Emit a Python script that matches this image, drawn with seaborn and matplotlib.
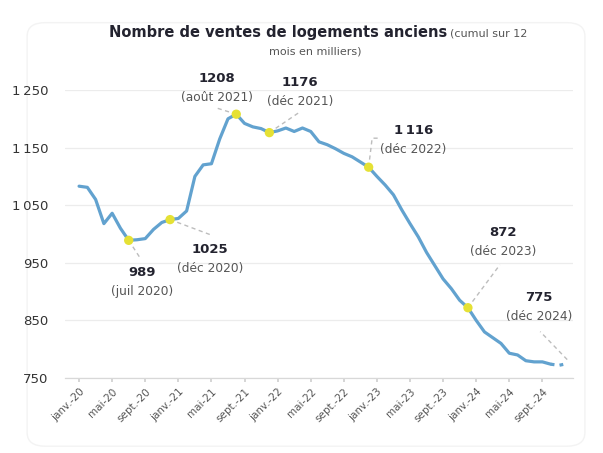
import numpy as np
import pandas as pd
import matplotlib
matplotlib.use("Agg")
import matplotlib.pyplot as plt
import seaborn as sns
from matplotlib.patches import FancyBboxPatch

# --- DATA ---
MONTH_LABELS = ["janv.-20", "mai-20", "sept.-20", "janv.-21", "mai-21", "sept.-21",
                "janv.-22", "mai-22", "sept.-22", "janv.-23", "mai-23", "sept.-23",
                "janv.-24", "mai-24", "sept.-24"]

# monthly 12-month cumulative sales (thousands), janv. 2020 -> déc. 2024
SALES = [1083, 1081, 1060, 1018, 1036, 1010, 989, 990, 992, 1008, 1020, 1025,
         1027, 1040, 1100, 1120, 1122, 1165, 1200, 1208, 1192, 1186, 1183, 1176,
         1179, 1184, 1178, 1184, 1178, 1160, 1155, 1148, 1140, 1134, 1125, 1116,
         1100, 1085, 1068, 1042, 1018, 995, 968, 945, 922, 905, 885, 872,
         850, 830, 820, 810, 793, 790, 780, 778, 778, 774, 772, 775]

PROVISIONAL_FROM = 57  # last months drawn dotted

HIGHLIGHT_MONTHS = [6, 11, 19, 23, 35, 47, 59]
HIGHLIGHT_VALUES = ["989", "1025", "1208", "1176", "1\u2009116", "872", "775"]
HIGHLIGHT_DATES = ["(juil 2020)", "(déc 2020)", "(août 2021)", "(déc 2021)",
                   "(déc 2022)", "(déc 2023)", "(déc 2024)"]

Y_TICKS = [750, 850, 950, 1050, 1150, 1250]
Y_TICK_LABELS = ["750", "850", "950", "1\u2009050", "1\u2009150", "1\u2009250"]

# --- LAYOUT (pixel offsets from the highlighted point) ---
LEADERS = [
    [(0, 0), (11, -17)],
    [(0, 0), (40, -15)],
    [(0, 0), (-19, 6)],
    [(0, 0), (31, 21)],
    [(0, 0), (3.5, 29), (10, 29)],
    [(0, 0), (32, 43)],
    [(0, 4), (-27, 32)],
]
LABEL_POS = [(13, -32), (40, -30), (-19, 36), (31, 50), (45, 37), (35, 75), (-28, 66)]
DATE_GAP = -19
SHOW_MARKER = [True, True, True, True, True, True, False]

LINE_COLOR = "#62a2cf"
DOT_COLOR = "#e5e135"
LEADER_COLOR = "#bdbdbd"
DARK = "#23232f"
GREY = "#555555"


def main():
    df = pd.DataFrame({"month": np.arange(len(SALES)), "sales": SALES})
    solid = df[df["month"] <= PROVISIONAL_FROM]
    dotted = df[df["month"] >= PROVISIONAL_FROM]

    sns.set_theme(style="whitegrid")
    plt.rcParams["font.family"] = ["DejaVu Sans"]

    fig = plt.figure(figsize=(6.03, 4.53), dpi=100)
    fig.patch.set_facecolor("white")
    card = FancyBboxPatch((0.045, 0.015), 0.925, 0.935, boxstyle="round,pad=0,rounding_size=0.03",
                          transform=fig.transFigure, facecolor="white", edgecolor="#f3f3f3",
                          linewidth=1.0, zorder=-1)
    fig.patches.append(card)

    ax = fig.add_axes([65 / 603, 75 / 453, 508 / 603, 288 / 453])
    ax.set_facecolor("none")

    sns.lineplot(data=solid, x="month", y="sales", ax=ax, color=LINE_COLOR, linewidth=2.3)
    sns.lineplot(data=dotted, x="month", y="sales", ax=ax, color=LINE_COLOR, linewidth=2.3,
                 linestyle=(0, (1.2, 1.6)))

    ax.set_xlim(-1.7, 59.7)
    ax.set_ylim(750, 1250)
    ax.set_xlabel("")
    ax.set_ylabel("")

    ax.set_yticks(Y_TICKS)
    ax.set_yticklabels(Y_TICK_LABELS, fontsize=9.5, color="#333333")
    ax.set_xticks(np.arange(0, 57, 4))
    ax.set_xticklabels(MONTH_LABELS, rotation=45, ha="right", rotation_mode="anchor",
                       fontsize=7.5, color=GREY)
    ax.tick_params(axis="x", bottom=True, length=3, color="#d0d0d0", pad=3)
    ax.tick_params(axis="y", left=False, pad=6)

    ax.grid(axis="x", visible=False)
    ax.grid(axis="y", color="#ececec", linewidth=0.9)
    for side in ["top", "right", "left"]:
        ax.spines[side].set_visible(False)
    ax.spines["bottom"].set_color("#d8d8d8")
    ax.spines["bottom"].set_linewidth(0.9)

    # highlighted points and their labels
    to_data = ax.transData.inverted()
    for i, m in enumerate(HIGHLIGHT_MONTHS):
        val = SALES[m]
        base = ax.transData.transform((m, val))
        pts = np.array([to_data.transform(base + np.array(o)) for o in LEADERS[i]])
        ax.plot(pts[:, 0], pts[:, 1], color=LEADER_COLOR, linewidth=1.0,
                linestyle=(0, (3, 2.5)), clip_on=False, zorder=2)
        if SHOW_MARKER[i]:
            ax.scatter([m], [val], s=45, color=DOT_COLOR, edgecolor="none", zorder=4)
        lx, ly = LABEL_POS[i]
        ax.annotate(HIGHLIGHT_VALUES[i], xy=(m, val), xytext=(lx, ly), textcoords="offset pixels",
                    ha="center", va="center", fontsize=9.5, fontweight="bold", color=DARK,
                    annotation_clip=False)
        ax.annotate(HIGHLIGHT_DATES[i], xy=(m, val), xytext=(lx, ly + DATE_GAP),
                    textcoords="offset pixels", ha="center", va="center", fontsize=8.8,
                    color=GREY, annotation_clip=False)

    # title
    fig.text(447 / 603, 1 - 33 / 453, "Nombre de ventes de logements anciens", ha="right",
             va="center", fontsize=10.5, fontweight="bold", color=DARK)
    fig.text(450 / 603, 1 - 33 / 453, "(cumul sur 12", ha="left", va="center",
             fontsize=8, color=GREY)
    fig.text(315 / 603, 1 - 52 / 453, "mois en milliers)", ha="center", va="center",
             fontsize=8, color=GREY)

    fig.savefig("out.png", dpi=100, facecolor="white")


if __name__ == "__main__":
    main()
